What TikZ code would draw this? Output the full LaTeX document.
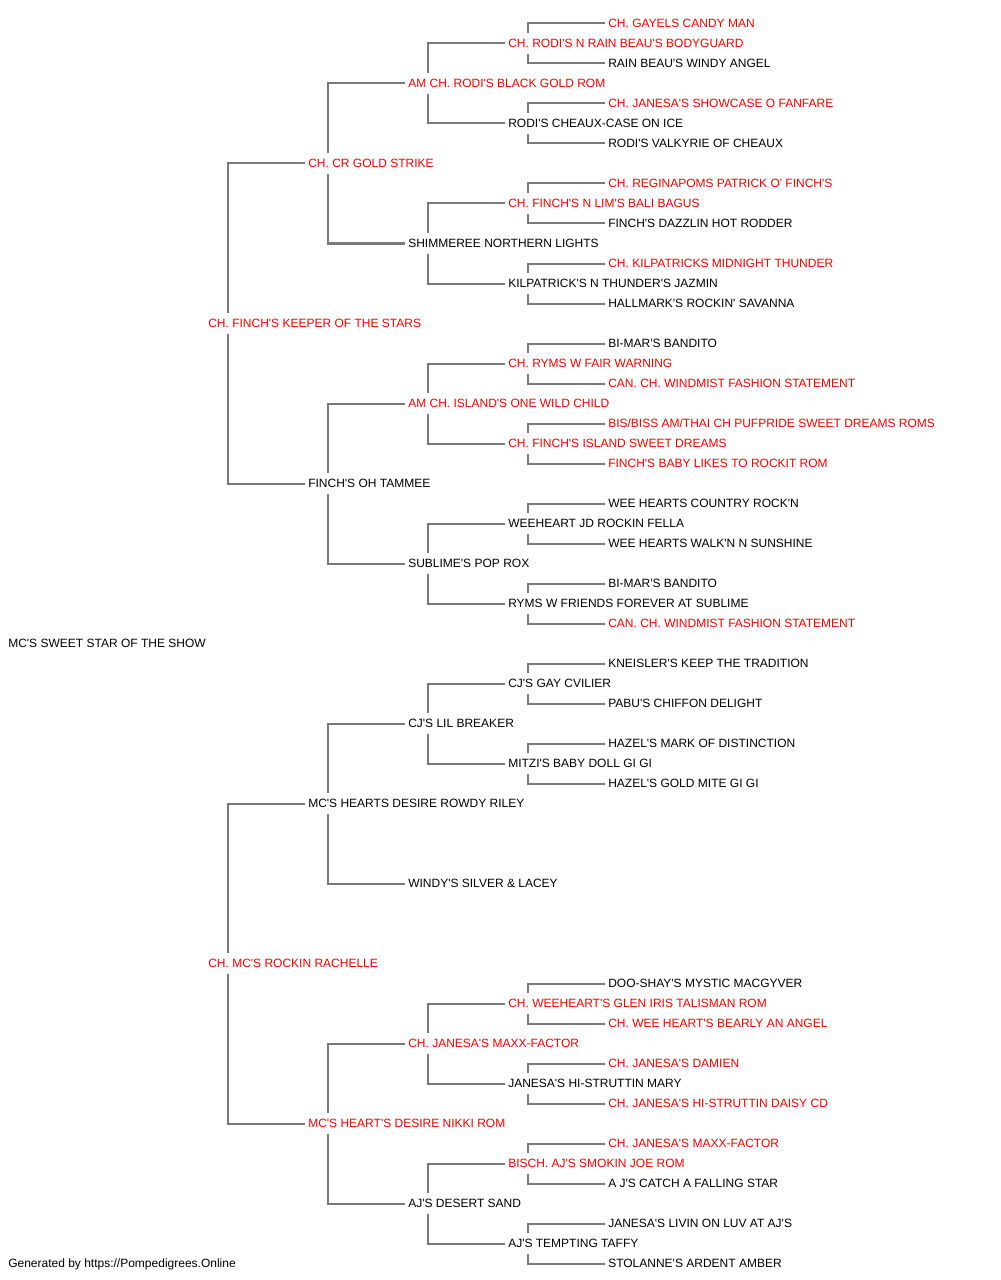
\documentclass[tikz,border=0pt]{standalone}
\usepackage{fontspec}
\newfontfamily\pedfont{Liberation Sans}
\definecolor{pedred}{HTML}{FF0000}
\definecolor{pedline}{HTML}{7A7A7A}
\tikzset{
  pn/.style={anchor=west, inner xsep=2.25pt, inner ysep=4.25pt, text height=6.44pt, text depth=0pt,
    font=\pedfont\fontsize{9pt}{10pt}\selectfont, text=black},
  rd/.style={pn, text=pedred},
  conn/.style={draw=pedline, line width=1.5pt}
}
\newcommand\pedlink[3]{%
  \draw[conn] (#2.west) -- ++(-77,0) coordinate (tt) -- (tt |- #1.north);
  \draw[conn] (#3.west) -- ++(-77,0) coordinate (tt) -- (tt |- #1.south);
}
\begin{document}
\begin{tikzpicture}[x=0.75pt,y=-0.75pt]
\useasboundingbox[fill=white] (0,0) rectangle (1000,1280);
% generation 0
\node[pn] (g0) at (5,643.5) {MC'S SWEET STAR OF THE SHOW};
% generation 1
\node[rd] (g1a) at (205,323.5) {CH. FINCH'S KEEPER OF THE STARS};
\node[rd] (g1b) at (205,963.5) {CH. MC'S ROCKIN RACHELLE};
% generation 2
\node[rd] (g2a) at (305,163.5) {CH. CR GOLD STRIKE};
\node[pn] (g2b) at (305,483.5) {FINCH'S OH TAMMEE};
\node[pn] (g2c) at (305,803.5) {MC'S HEARTS DESIRE ROWDY RILEY};
\node[rd] (g2d) at (305,1123.5) {MC'S HEART'S DESIRE NIKKI ROM};
% generation 3
\node[rd] (g3a) at (405,83.5) {AM CH. RODI'S BLACK GOLD ROM};
\node[pn] (g3b) at (405,243.5) {SHIMMEREE NORTHERN LIGHTS};
\node[rd] (g3c) at (405,403.5) {AM CH. ISLAND'S ONE WILD CHILD};
\node[pn] (g3d) at (405,563.5) {SUBLIME'S POP ROX};
\node[pn] (g3e) at (405,723.5) {CJ'S LIL BREAKER};
\node[pn] (g3f) at (405,883.5) {WINDY'S SILVER \& LACEY};
\node[rd] (g3g) at (405,1043.5) {CH. JANESA'S MAXX-FACTOR};
\node[pn] (g3h) at (405,1203.5) {AJ'S DESERT SAND};
% generation 4
\node[rd] (g4a) at (505,43.5) {CH. RODI'S N RAIN BEAU'S BODYGUARD};
\node[pn] (g4b) at (505,123.5) {RODI'S CHEAUX-CASE ON ICE};
\node[rd] (g4c) at (505,203.5) {CH. FINCH'S N LIM'S BALI BAGUS};
\node[pn] (g4d) at (505,283.5) {KILPATRICK'S N THUNDER'S JAZMIN};
\node[rd] (g4e) at (505,363.5) {CH. RYMS W FAIR WARNING};
\node[rd] (g4f) at (505,443.5) {CH. FINCH'S ISLAND SWEET DREAMS};
\node[pn] (g4g) at (505,523.5) {WEEHEART JD ROCKIN FELLA};
\node[pn] (g4h) at (505,603.5) {RYMS W FRIENDS FOREVER AT SUBLIME};
\node[pn] (g4i) at (505,683.5) {CJ'S GAY CVILIER};
\node[pn] (g4j) at (505,763.5) {MITZI'S BABY DOLL GI GI};
\node[rd] (g4m) at (505,1003.5) {CH. WEEHEART'S GLEN IRIS TALISMAN ROM};
\node[pn] (g4n) at (505,1083.5) {JANESA'S HI-STRUTTIN MARY};
\node[rd] (g4o) at (505,1163.5) {BISCH. AJ'S SMOKIN JOE ROM};
\node[pn] (g4p) at (505,1243.5) {AJ'S TEMPTING TAFFY};
% generation 5
\node[rd] (g5a1) at (605,23.5) {CH. GAYELS CANDY MAN};
\node[pn] (g5a2) at (605,63.5) {RAIN BEAU'S WINDY ANGEL};
\node[rd] (g5b1) at (605,103.5) {CH. JANESA'S SHOWCASE O FANFARE};
\node[pn] (g5b2) at (605,143.5) {RODI'S VALKYRIE OF CHEAUX};
\node[rd] (g5c1) at (605,183.5) {CH. REGINAPOMS PATRICK O' FINCH'S};
\node[pn] (g5c2) at (605,223.5) {FINCH'S DAZZLIN HOT RODDER};
\node[rd] (g5d1) at (605,263.5) {CH. KILPATRICKS MIDNIGHT THUNDER};
\node[pn] (g5d2) at (605,303.5) {HALLMARK'S ROCKIN' SAVANNA};
\node[pn] (g5e1) at (605,343.5) {BI-MAR'S BANDITO};
\node[rd] (g5e2) at (605,383.5) {CAN. CH. WINDMIST FASHION STATEMENT};
\node[rd] (g5f1) at (605,423.5) {BIS/BISS AM/THAI CH PUFPRIDE SWEET DREAMS ROMS};
\node[rd] (g5f2) at (605,463.5) {FINCH'S BABY LIKES TO ROCKIT ROM};
\node[pn] (g5g1) at (605,503.5) {WEE HEARTS COUNTRY ROCK'N};
\node[pn] (g5g2) at (605,543.5) {WEE HEARTS WALK'N N SUNSHINE};
\node[pn] (g5h1) at (605,583.5) {BI-MAR'S BANDITO};
\node[rd] (g5h2) at (605,623.5) {CAN. CH. WINDMIST FASHION STATEMENT};
\node[pn] (g5i1) at (605,663.5) {KNEISLER'S KEEP THE TRADITION};
\node[pn] (g5i2) at (605,703.5) {PABU'S CHIFFON DELIGHT};
\node[pn] (g5j1) at (605,743.5) {HAZEL'S MARK OF DISTINCTION};
\node[pn] (g5j2) at (605,783.5) {HAZEL'S GOLD MITE GI GI};
\node[pn] (g5m1) at (605,983.5) {DOO-SHAY'S MYSTIC MACGYVER};
\node[rd] (g5m2) at (605,1023.5) {CH. WEE HEART'S BEARLY AN ANGEL};
\node[rd] (g5n1) at (605,1063.5) {CH. JANESA'S DAMIEN};
\node[rd] (g5n2) at (605,1103.5) {CH. JANESA'S HI-STRUTTIN DAISY CD};
\node[rd] (g5o1) at (605,1143.5) {CH. JANESA'S MAXX-FACTOR};
\node[pn] (g5o2) at (605,1183.5) {A J'S CATCH A FALLING STAR};
\node[pn] (g5p1) at (605,1223.5) {JANESA'S LIVIN ON LUV AT AJ'S};
\node[pn] (g5p2) at (605,1263.5) {STOLANNE'S ARDENT AMBER};
% footer
\node[pn] (foot) at (5,1263.5) {Generated by https://Pompedigrees.Online};
% connectors
\pedlink{g1a}{g2a}{g2b}
\pedlink{g1b}{g2c}{g2d}
\pedlink{g2a}{g3a}{g3b}
\pedlink{g2b}{g3c}{g3d}
\pedlink{g2c}{g3e}{g3f}
\pedlink{g2d}{g3g}{g3h}
\pedlink{g3a}{g4a}{g4b}
\pedlink{g3b}{g4c}{g4d}
\pedlink{g3c}{g4e}{g4f}
\pedlink{g3d}{g4g}{g4h}
\pedlink{g3e}{g4i}{g4j}
\pedlink{g3g}{g4m}{g4n}
\pedlink{g3h}{g4o}{g4p}
\pedlink{g4a}{g5a1}{g5a2}
\pedlink{g4b}{g5b1}{g5b2}
\pedlink{g4c}{g5c1}{g5c2}
\pedlink{g4d}{g5d1}{g5d2}
\pedlink{g4e}{g5e1}{g5e2}
\pedlink{g4f}{g5f1}{g5f2}
\pedlink{g4g}{g5g1}{g5g2}
\pedlink{g4h}{g5h1}{g5h2}
\pedlink{g4i}{g5i1}{g5i2}
\pedlink{g4j}{g5j1}{g5j2}
\pedlink{g4m}{g5m1}{g5m2}
\pedlink{g4n}{g5n1}{g5n2}
\pedlink{g4o}{g5o1}{g5o2}
\pedlink{g4p}{g5p1}{g5p2}
\end{tikzpicture}
\end{document}
